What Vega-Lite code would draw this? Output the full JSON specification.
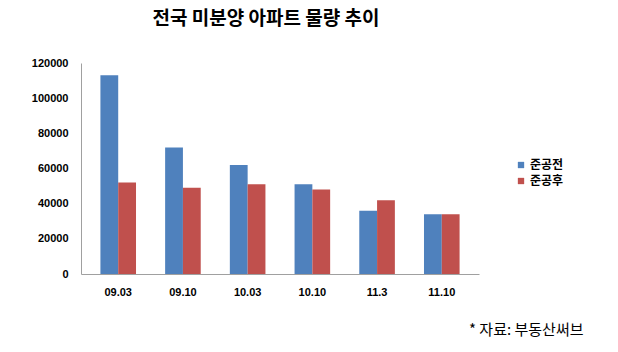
{
  "$schema": "https://vega.github.io/schema/vega-lite/v6.json",
  "autosize": {"type": "none"},
  "padding": {"left": 81, "top": 63, "right": 139, "bottom": 78},
  "width": 398,
  "height": 211,
  "background": "white",
  "title": {
    "text": "전국 미분양 아파트 물량 추이",
    "font": "Noto Sans CJK KR",
    "fontSize": 19,
    "fontWeight": "bold",
    "color": "#000000",
    "anchor": "middle",
    "frame": "group",
    "dx": -14,
    "offset": 28
  },
  "data": {
    "values": [
      {"period": "09.03", "series": "준공전", "value": 113000},
      {"period": "09.03", "series": "준공후", "value": 52000},
      {"period": "09.10", "series": "준공전", "value": 72000},
      {"period": "09.10", "series": "준공후", "value": 49000},
      {"period": "10.03", "series": "준공전", "value": 62000},
      {"period": "10.03", "series": "준공후", "value": 51000},
      {"period": "10.10", "series": "준공전", "value": 51000},
      {"period": "10.10", "series": "준공후", "value": 48000},
      {"period": "11.3", "series": "준공전", "value": 36000},
      {"period": "11.3", "series": "준공후", "value": 42000},
      {"period": "11.10", "series": "준공전", "value": 34000},
      {"period": "11.10", "series": "준공후", "value": 34000}
    ]
  },
  "mark": {"type": "bar", "stroke": null},
  "encoding": {
    "x": {
      "field": "period",
      "type": "nominal",
      "sort": null,
      "scale": {"paddingInner": 0.45, "paddingOuter": 0.3},
      "axis": {
        "title": "* 자료:  부동산써브",
        "titleFont": "Noto Sans CJK KR",
        "titleFontSize": 15,
        "titleFontWeight": "normal",
        "titleColor": "#000000",
        "titleAnchor": "end",
        "titleAlign": "right",
        "titleX": 502,
        "titleY": 48,
        "labelAngle": 0,
        "labelFont": "Liberation Sans",
        "labelFontSize": 11,
        "labelFontWeight": "bold",
        "labelColor": "#000000",
        "labelPadding": 12,
        "ticks": false,
        "domainColor": "#A0A0A0",
        "grid": false
      }
    },
    "xOffset": {"field": "series", "type": "nominal", "sort": ["준공전", "준공후"]},
    "y": {
      "field": "value",
      "type": "quantitative",
      "scale": {"domain": [0, 120000], "nice": false},
      "axis": {
        "title": null,
        "values": [0, 20000, 40000, 60000, 80000, 100000, 120000],
        "format": "d",
        "labelFont": "Liberation Sans",
        "labelFontSize": 11,
        "labelFontWeight": "bold",
        "labelColor": "#000000",
        "labelPadding": 13,
        "ticks": false,
        "domainColor": "#A0A0A0",
        "grid": false
      }
    },
    "color": {
      "field": "series",
      "type": "nominal",
      "sort": ["준공전", "준공후"],
      "scale": {"domain": ["준공전", "준공후"], "range": ["#4F81BD", "#C0504D"]},
      "legend": {
        "title": null,
        "orient": "none",
        "legendX": 434,
        "legendY": 96,
        "symbolType": "square",
        "symbolSize": 40,
        "symbolStrokeWidth": 0,
        "labelFont": "Noto Sans CJK KR",
        "labelFontSize": 12,
        "labelFontWeight": "bold",
        "labelColor": "#000000",
        "rowPadding": 4,
        "labelOffset": 3
      }
    }
  },
  "config": {"view": {"stroke": null}}
}
